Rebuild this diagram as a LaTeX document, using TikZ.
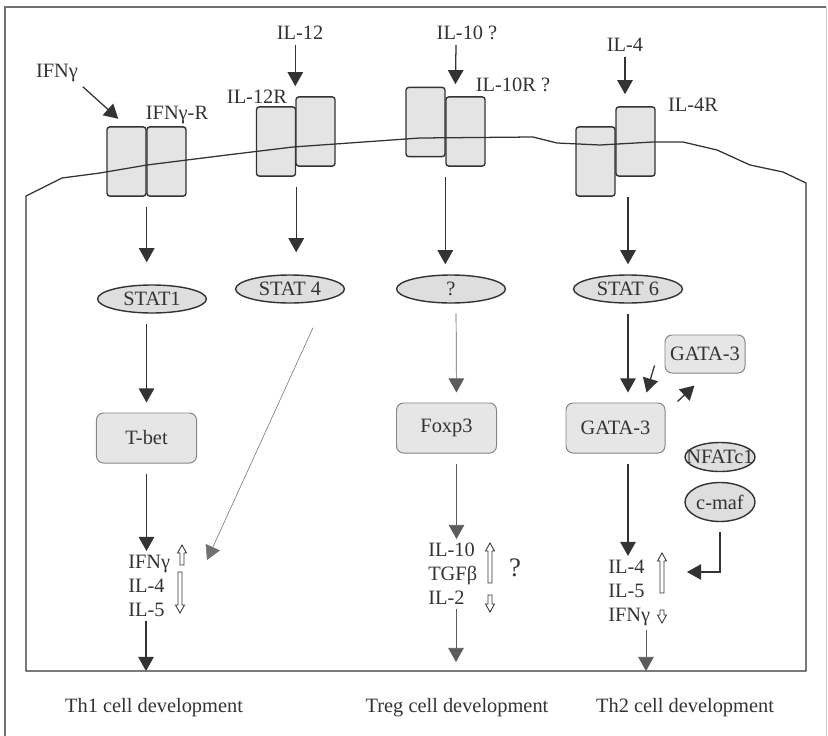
\documentclass[tikz,border=0pt]{standalone}
\usepackage{fontspec}
\setmainfont{Liberation Serif}
\usetikzlibrary{shapes,arrows.meta,positioning,calc}
\definecolor{ink}{HTML}{333333}
\definecolor{recgray}{HTML}{E4E4E4}
\definecolor{statgray}{HTML}{DEDEDE}
\definecolor{boxgray}{HTML}{E6E6E6}

\newcommand{\hollowarr}[3]{% x, tail y, tip y
    \pgfmathsetmacro{\hdoff}{(#3>#2) ? 8 : -8}%
    \draw[hollow] (#1-2,#2) -- (#1-2,{#3-(\hdoff)}) -- (#1-4.5,{#3-(\hdoff)}) -- (#1,#3)
        -- (#1+4.5,{#3-(\hdoff)}) -- (#1+2,{#3-(\hdoff)}) -- (#1+2,#2) -- cycle;}

\begin{document}
\begin{tikzpicture}[
            x=0.025cm, y=-0.025cm,
            font=\fontsize{14.5}{17}\selectfont,
            text=ink,
                rec/.style = {rectangle, rounded corners=2pt, draw=ink, line width=1pt,
                              fill=recgray, minimum width=0.975cm, minimum height=1.73cm,
                              inner sep=0pt},% receptor chains
                stat/.style = {ellipse, draw=ink, line width=1pt, fill=statgray,
                               minimum width=2.72cm, minimum height=0.7cm, inner sep=0pt},
                tf/.style = {rectangle, rounded corners=5pt, draw=ink!60, line width=0.7pt,
                             fill=boxgray, minimum width=2.5cm, minimum height=1.25cm},
                cyto/.style = {align=left, inner sep=0pt, anchor=west},
                flow/.style = {draw=ink, line width=0.9pt,
                               -{Triangle[width=11pt,length=10pt]},
                               shorten <=0.25cm, shorten >=0.25cm},
                faint/.style = {flow, draw=ink!80, line width=0.5pt},
                hollow/.style = {draw=ink, line width=0.6pt, fill=white},
                ]
            \useasboundingbox (0,0) rectangle (828,736);
            % frame
            \draw[ink!70, line width=1pt] (5,745) -- (5,7) -- (826,7);
            \draw[ink!25, line width=0.6pt] (826,7) -- (826,745);
            % receptors
            \node[rec] (ifnrA)  at (126.5,161.5) {};
            \node[rec] (ifnrB)  at (166.5,161.5) {};
            \node[rec] (il12rA) at (276,141.5) {};
            \node[rec] (il12rB) at (315.5,131.5) {};
            \node[rec] (il10rA) at (425.5,122) {};
            \node[rec] (il10rB) at (465.5,131.5) {};
            \node[rec] (il4rA)  at (595.5,161.5) {};
            \node[rec] (il4rB)  at (635.5,141.5) {};
            % cell with membrane
            \draw[ink, line width=0.9pt] (806,183) -- (783,172) -- (750,165) -- (717,150)
                -- (683,142) -- (653,142) -- (600,145) -- (557,143) -- (533,137)
                -- (420,138) -- (293,147) -- (227,155) -- (147,165) -- (100,173)
                -- (62,178) -- (26,196) -- (26,671) -- (806,671) -- cycle;
            % ligands and receptor names
            \node (ifng)  at (57,73)   {IFNγ};
            \node (ifngr) at (177,115) {IFNγ-R};
            \node (il12)  at (300,33)  {IL-12};
            \node (il12r) at (257,97)  {IL-12R};
            \node (il10)  at (467,33)  {IL-10 ?};
            \node (il10r) at (513,85)  {IL-10R ?};
            \node (il4)   at (625,45)  {IL-4};
            \node (il4r)  at (693,105) {IL-4R};
            % signalling
            \node[stat] (stat1) at (152,299) {STAT1};
            \node[stat] (stat4) at (290,289) {STAT 4};
            \node[stat] (statq) at (451,289) {?};
            \node[stat] (stat6) at (628,289) {STAT 6};
            \node[tf] (tbet)  at (146.5,438) {T-bet};
            \node[tf] (foxp3) at (446.5,428) {Foxp3};
            \node[tf, minimum width=2.475cm] (gata) at (615.5,428) {GATA-3};
            \node[tf, minimum width=2cm, minimum height=0.95cm, inner sep=1pt] (gatab) at (705,354) {GATA-3};
            \node[stat, minimum width=1.75cm, minimum height=0.725cm] (nfat) at (720,457) {\makebox[0pt]{NFATc1}};
            \node[stat, minimum width=1.75cm, minimum height=0.975cm] (cmaf) at (720,502) {c-maf};
            % cytokines
            \node[cyto] (th1list)  at (128,586) {IFNγ\\IL-4\\IL-5};
            \node[cyto] (treglist) at (428,574) {IL-10\\TGFβ\\IL-2};
            \node[cyto] (th2list)  at (608,593) {IL-4\\IL-5\\IFNγ};
            \node[font=\fontsize{19}{22}\selectfont] (tregq) at (515,568) {?};
            \hollowarr{182}{565}{545}
            \hollowarr{180}{572}{613}
            \hollowarr{490}{583}{543}
            \hollowarr{490}{595}{612}
            \hollowarr{662}{593}{553}
            \hollowarr{662}{610}{623}
            % outcome
            \node (th1dev)  at (154,708) {Th1 cell development};
            \node (tregdev) at (457,708) {Treg cell development};
            \node (th2dev)  at (685,708) {Th2 cell development};
            \coordinate (th1in)  at (207,560);
            \coordinate (th2in)  at (687,572);
            \coordinate (th1end) at (146,671);
            \coordinate (tregend) at (456,662);
            \coordinate (th2end) at (646,671);
            \coordinate (foxout) at ($(foxp3.south)+(10,0)$);
            % arrows
            \draw[flow, shorten <=0pt, shorten >=0.275cm] (ifng.south east) -- (ifnrA.north);
            \draw[flow, shorten <=0pt] (il12.south -| il12rB.west) -- (il12rB.north west);
            \draw[flow, shorten <=0pt, shorten >=0.3cm] ($(il10.south)+(-11,0)$) -- ($(il10rB.north west)+(10,0)$);
            \draw[flow, shorten <=0pt, shorten >=0.3cm] (il4.south) -- (il4.south |- il4rB.north);
            \draw[flow, shorten >=0.55cm] (ifnrA.south east) -- (ifnrA.south east |- stat1.north);
            \draw[flow, shorten >=0.55cm] (il12rA.south east) -- (il12rA.south east |- stat4.north);
            \draw[flow] (il10rB.south west) -- (il10rB.south west |- statq.north);
            \draw[flow, shorten <=0pt] (stat6 |- il4rA.south) -- (stat6.north);
            \draw[flow] (tbet |- stat1.south) -- (tbet.north);
            \draw[faint] ($(statq.south)+(5,0)$) -- ($(foxp3.north)+(10,0)$);
            \draw[flow] (stat6.south) -- (stat6.south |- gata.north);
            \draw[flow, shorten <=0pt, shorten >=0pt] ($(gatab.south west)+(-10,-8)$) -- ($(gata.north east)+(-19,-10)$);
            \draw[flow, shorten <=0pt, shorten >=0pt] ($(gata.north east)+(12,-1)$) -- ($(gatab.south west)+(30,12)$);
            \draw[flow, shorten >=0.1cm] (tbet.south) -- (tbet.south |- th1list.north);
            \draw[faint, shorten >=0.1cm] (foxout) -- (foxout |- treglist.north);
            \draw[flow, shorten >=0.1cm] (stat6.south |- gata.south) -- (stat6.south |- th2list.north);
            \draw[faint, draw=ink!70, line width=0.4pt, shorten <=0pt, shorten >=0pt] ($(stat4.south)+(23,24)$) -- (th1in);
            \draw[flow, shorten >=0pt] (cmaf.south) |- (th2in);
            \draw[flow, shorten <=0.1cm, shorten >=0pt] (th1end |- th1list.south) -- (th1end);
            \draw[faint, shorten <=0.1cm, shorten >=0pt] (tregend |- treglist.south) -- (tregend);
            \draw[faint, shorten <=0.1cm, shorten >=0pt] (th2end |- th2list.south) -- (th2end);
        \end{tikzpicture}
\end{document}
